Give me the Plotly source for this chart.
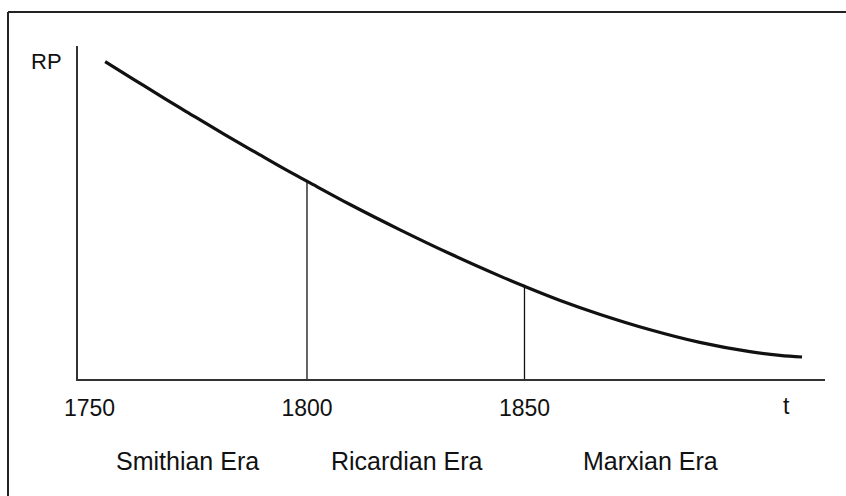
import plotly.graph_objects as go

# Curve: relative price (RP) over time
years = [1753.6, 1760.5, 1767.4, 1774.3, 1781.2, 1788.1, 1794.9, 1800.7, 1809.9,
         1821.4, 1832.9, 1844.4, 1849.7, 1858.2, 1867.4, 1878.9, 1890.3, 1901.8,
         1908.7, 1913.8]
rp = [95.3, 89.7, 84.1, 78.7, 73.3, 68.1, 63.0, 58.9, 52.4,
      44.8, 37.6, 30.9, 28.0, 23.6, 19.4, 14.8, 11.0, 8.2,
      7.1, 6.6]

# Era boundaries (vertical lines) and their heights where they meet the curve
era_bounds = [1800, 1850]
bound_heights = [59.4, 27.9]

# Tick labels
tick_vals = [1750, 1800, 1850]
tick_text = ["1750", "1800", "1850"]

# Era labels
era_names = ["Smithian Era", "Ricardian Era", "Marxian Era"]
era_label_x = [1772.5, 1823.0, 1878.9]

FONT = "Liberation Sans, Arial, Helvetica, sans-serif"
INK = "#111111"

fig = go.Figure()

fig.add_trace(go.Scatter(
    x=years, y=rp, mode="lines",
    line=dict(color=INK, width=3.2, shape="spline", smoothing=1.0),
    hoverinfo="skip", showlegend=False,
))

for bx, bh in zip(era_bounds, bound_heights):
    fig.add_trace(go.Scatter(
        x=[bx, bx], y=[0, bh], mode="lines",
        line=dict(color=INK, width=1.3),
        hoverinfo="skip", showlegend=False,
    ))

for name, ex in zip(era_names, era_label_x):
    fig.add_annotation(
        x=ex, xref="x", y=-0.247, yref="paper",
        text=name, showarrow=False,
        xanchor="center", yanchor="middle",
        font=dict(family=FONT, size=25, color=INK),
    )

# axis labels
fig.add_annotation(x=-0.0415, xref="paper", y=0.953, yref="paper",
                   text="RP", showarrow=False, xanchor="center", yanchor="middle",
                   font=dict(family=FONT, size=22, color=INK))
fig.add_annotation(x=0.949, xref="paper", y=-0.080, yref="paper",
                   text="t", showarrow=False, xanchor="center", yanchor="middle",
                   font=dict(family=FONT, size=23, color=INK))

# outer frame (only left and top edges visible)
fig.add_shape(type="line", xref="paper", yref="paper",
              x0=-0.0937, x1=-0.0937, y0=-0.40, y1=1.102,
              line=dict(color="#222222", width=2))
fig.add_shape(type="line", xref="paper", yref="paper",
              x0=-0.0937, x1=1.03, y0=1.102, y1=1.102,
              line=dict(color="#222222", width=2))

fig.update_xaxes(
    range=[1747.36, 1919.08],
    showline=True, linecolor="#333333", linewidth=1.5,
    showgrid=False, zeroline=False,
    tickmode="array", tickvals=tick_vals, ticktext=tick_text,
    ticks="", ticklabelstandoff=8,
    tickfont=dict(family=FONT, size=23, color=INK),
)
fig.update_yaxes(
    range=[0, 100],
    showline=True, linecolor="#333333", linewidth=1.5,
    showgrid=False, zeroline=False, showticklabels=False, ticks="",
)

fig.update_layout(
    width=846, height=496,
    margin=dict(l=78, r=21, t=46, b=117),
    paper_bgcolor="white", plot_bgcolor="white",
    showlegend=False,
)

# remove the default page margin and any scrollbars so the figure fills the window exactly
fig.write_html(
    "out.html",
    config={"displayModeBar": False},
    post_script=(
        "document.documentElement.style.overflow='hidden';"
        "document.body.style.margin='0';"
        "document.body.style.overflow='hidden';"
        "var d=document.getElementById('{plot_id}'); if(d){d.style.display='block';}"
    ),
)
